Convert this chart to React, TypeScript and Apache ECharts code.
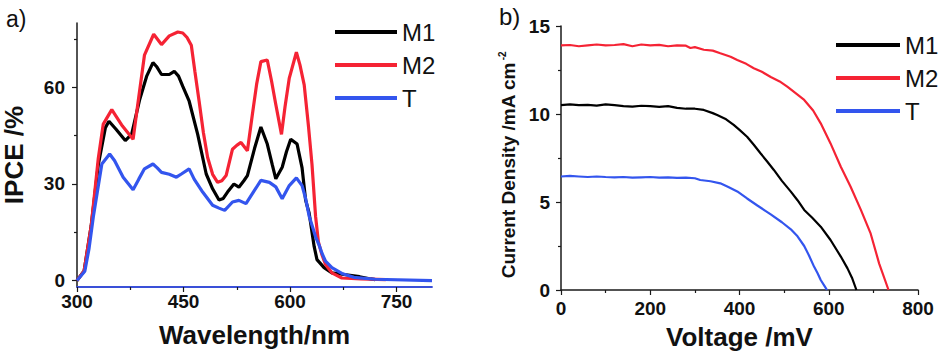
import React, { useEffect, useRef } from "react";
import * as echarts from "echarts";

// ---------- Panel a) IPCE spectra ----------
const wlM1 = [300, 310, 320, 330, 340, 345, 355, 368, 377, 388, 398, 407, 412, 419, 430, 437, 443, 449, 458, 470, 482, 491, 500, 506, 512, 521, 528, 535, 540, 550, 559, 568, 575, 580, 589, 595, 601, 610, 617, 622, 627, 634, 638, 648, 659, 679, 698, 714, 720];
const ipceM1 = [0, 3, 17, 36, 47.5, 49.5, 47, 43.5, 45.5, 56, 63.4, 67.7, 66.5, 64, 64, 65, 63.5, 60.3, 55.7, 45.4, 33.1, 28.5, 25, 25.5, 27.5, 30, 29, 31, 32.6, 41, 47.7, 42.4, 36, 31.6, 35.2, 40, 43.9, 42.4, 35, 25, 20.9, 10.6, 6.5, 4, 2.4, 1.8, 1.2, 0.5, 0.3];

const wlM2 = [300, 310, 320, 330, 337, 349, 364, 379, 387, 395, 408, 419, 430, 442, 449, 455, 461, 466, 472, 478, 484, 491, 498, 504, 510, 519, 525, 531, 540, 547, 553, 559, 568, 574, 580, 588, 593, 599, 609, 614, 620, 626, 631, 636, 640, 645, 650, 659, 673, 700, 735];
const ipceM2 = [0, 3, 17, 38, 48.6, 53.1, 48, 43.9, 57, 70, 76.5, 73.3, 76, 77.2, 76.9, 75.5, 73.1, 65, 55.7, 46, 38.2, 33, 30.5, 31, 32.6, 40.8, 42, 42.9, 40.3, 51.6, 61, 68, 68.5, 62, 54.7, 45.4, 54, 62.9, 70.9, 67, 60.8, 48, 36, 20, 12, 8, 5, 2.4, 0.8, 0.5, 0.3];

const wlT = [300, 311, 317, 323, 335, 346, 353, 365, 379, 387, 395, 407, 413, 419, 430, 440, 447, 458, 465, 477, 491, 500, 508, 519, 528, 538, 547, 559, 571, 580, 589, 599, 609, 617, 622, 627, 632, 636, 641, 645, 650, 659, 673, 690, 720, 800];
const ipceT = [0, 2.9, 10, 19.8, 36.2, 39.3, 37.2, 32.1, 28.2, 31.5, 34.7, 36.2, 35, 33.6, 33, 32.1, 33.1, 34.7, 31.5, 27.5, 23.4, 22.5, 21.8, 24.4, 24.9, 23.9, 27, 31.1, 30.5, 29.1, 25.4, 29.5, 31.9, 29.5, 25.5, 20, 16.5, 13.6, 11, 8.5, 6, 4, 2.2, 1, 0.4, 0];

const wlTicks = [300, 450, 600, 750];
const wlMinorTicks = [375, 525, 675];
const ipceTicks = [0, 30, 60];
const ipceMinorTicks = [15, 45, 75];

// ---------- Panel b) J-V curves ----------
const vM1 = [0, 20, 40, 60, 80, 100, 120, 140, 160, 180, 200, 220, 240, 260, 280, 300, 320, 340, 350, 370, 387, 400, 417, 432, 447, 462, 477, 495, 515, 530, 545, 563, 582, 604, 627, 642, 652, 662];
const jM1 = [10.5, 10.55, 10.5, 10.52, 10.48, 10.55, 10.5, 10.45, 10.42, 10.47, 10.45, 10.4, 10.45, 10.35, 10.3, 10.3, 10.23, 10.05, 9.94, 9.7, 9.38, 9.1, 8.71, 8.25, 7.77, 7.3, 6.82, 6.2, 5.59, 5.1, 4.55, 4.1, 3.6, 2.84, 1.9, 1.23, 0.7, 0];

const vM2 = [0, 20, 40, 60, 80, 100, 120, 140, 160, 180, 200, 220, 240, 260, 280, 290, 300, 320, 340, 357, 380, 395, 415, 432, 450, 470, 490, 507, 525, 545, 565, 582, 604, 627, 649, 672, 694, 713, 734];
const jM2 = [13.9, 13.92, 13.85, 13.9, 13.95, 13.9, 13.92, 13.97, 13.85, 13.95, 13.9, 13.93, 13.85, 13.9, 13.88, 13.75, 13.8, 13.65, 13.6, 13.45, 13.25, 13.07, 12.85, 12.6, 12.4, 12.1, 11.85, 11.55, 11.2, 10.8, 10.2, 9.47, 8.33, 7.0, 5.87, 4.55, 3.2, 1.5, 0];

const vT = [0, 20, 40, 60, 80, 100, 120, 140, 160, 180, 200, 220, 240, 260, 280, 300, 312, 335, 357, 375, 395, 417, 440, 458, 470, 495, 515, 530, 545, 556, 567, 575, 582, 590, 596];
const jT = [6.45, 6.48, 6.45, 6.42, 6.45, 6.42, 6.4, 6.42, 6.38, 6.4, 6.42, 6.38, 6.4, 6.37, 6.38, 6.35, 6.25, 6.18, 6.06, 5.85, 5.6, 5.2, 4.8, 4.5, 4.3, 3.85, 3.45, 3.05, 2.5, 1.95, 1.33, 0.95, 0.57, 0.25, 0];

const vTicks = [0, 200, 400, 600, 800];
const vMinorTicks = [100, 300, 500, 700];
const jTicks = [0, 5, 10, 15];
const jMinorTicks = [2.5, 7.5, 12.5];

const seriesNames = ["M1", "M2", "T"];
const colors = ["#000000", "#f52334", "#3355ee"];

const FONT = "'Liberation Sans', Arial, sans-serif";
const AXIS_COLOR = "#1a1a1a";

const zip = (xs: number[], ys: number[]) => xs.map((x, i) => [x, ys[i]]);

function majorAxis(
  gridIndex: number,
  min: number,
  max: number,
  ticks: number[],
  labelMargin: number,
  extra: any
) {
  return {
    type: "value",
    gridIndex,
    min,
    max,
    splitLine: { show: false },
    axisLine: { show: true, onZero: false, lineStyle: { color: AXIS_COLOR, width: 1.5 } },
    axisTick: { show: true, customValues: ticks, length: 5, inside: false, lineStyle: { color: AXIS_COLOR, width: 1.2 } },
    axisLabel: {
      customValues: ticks,
      fontFamily: FONT,
      fontWeight: "bold",
      fontSize: 19,
      color: "#111",
      margin: labelMargin,
    },
    ...extra,
  };
}

function minorAxis(gridIndex: number, min: number, max: number, ticks: number[], position: string) {
  return {
    type: "value",
    gridIndex,
    min,
    max,
    position,
    splitLine: { show: false },
    axisLine: { show: false, onZero: false },
    axisTick: { show: true, customValues: ticks, length: 3, lineStyle: { color: AXIS_COLOR, width: 1.2 } },
    axisLabel: { show: false },
  };
}

export default function App() {
  const ref = useRef<HTMLDivElement>(null);

  useEffect(() => {
    document.body.style.margin = "0";
    const chart = echarts.init(ref.current!, null, { renderer: "svg" });

    const leftData = [zip(wlM1, ipceM1), zip(wlM2, ipceM2), zip(wlT, ipceT)];
    const rightData = [zip(vM1, jM1), zip(vM2, jM2), zip(vT, jT)];

    const series: any[] = [];
    seriesNames.forEach((name, i) => {
      series.push({
        type: "line",
        name,
        xAxisIndex: 0,
        yAxisIndex: 0,
        data: leftData[i],
        showSymbol: false,
        symbol: "none",
        lineStyle: { color: colors[i], width: 3.2 },
        itemStyle: { color: colors[i] },
        z: 3 + (i === 2 ? 1 : 0),
      });
    });
    seriesNames.forEach((name, i) => {
      series.push({
        type: "line",
        name,
        xAxisIndex: 1,
        yAxisIndex: 1,
        data: rightData[i],
        showSymbol: false,
        symbol: "none",
        lineStyle: { color: colors[i], width: 2.2 },
        itemStyle: { color: colors[i] },
      });
    });

    const legendCommon = {
      orient: "vertical",
      icon: "rect",
      itemHeight: 4,
      itemGap: 9,
      selectedMode: false,
      textStyle: { fontFamily: FONT, fontSize: 24, color: "#111", lineHeight: 24 },
      data: seriesNames,
    };

    chart.setOption({
      animation: false,
      backgroundColor: "#ffffff",
      textStyle: { fontFamily: FONT },
      grid: [
        { left: 77, top: 23, width: 355, height: 264 },
        { left: 561, top: 26, width: 357, height: 264 },
      ],
      xAxis: [
        majorAxis(0, 300, 800, wlTicks, 5, {
          position: "bottom",
          axisLine: { show: true, onZero: false, lineStyle: { color: "#3a50d8", width: 1.8 } },
          name: "Wavelength/nm",
          nameLocation: "middle",
          nameGap: 35,
          nameTextStyle: { fontFamily: FONT, fontWeight: "bold", fontSize: 26, color: "#111" },
        }),
        majorAxis(1, 0, 800, vTicks, 9, {
          position: "bottom",
          name: "Voltage /mV",
          nameLocation: "middle",
          nameGap: 34,
          nameTextStyle: { fontFamily: FONT, fontWeight: "bold", fontSize: 26, color: "#111" },
        }),
        minorAxis(0, 300, 800, wlMinorTicks, "bottom"),
        minorAxis(1, 0, 800, vMinorTicks, "bottom"),
      ],
      yAxis: [
        majorAxis(0, -2, 80, ipceTicks, 12, {
          position: "left",
          name: "IPCE /%",
          nameLocation: "middle",
          nameGap: 50,
          nameTextStyle: { fontFamily: FONT, fontWeight: "bold", fontSize: 26, color: "#111" },
        }),
        majorAxis(1, 0, 15, jTicks, 11, {
          position: "left",
          name: "Current Density /mA cm{sup|-2}",
          nameLocation: "middle",
          nameGap: 42,
          nameTextStyle: {
            fontFamily: FONT,
            fontWeight: "bold",
            fontSize: 19,
            color: "#111",
            padding: [0, 14, 0, 0],
            rich: {
              sup: { fontFamily: FONT, fontWeight: "bold", fontSize: 10, color: "#111", padding: [0, 0, 12, 2] },
            },
          },
        }),
        minorAxis(0, -2, 80, ipceMinorTicks, "left"),
        minorAxis(1, 0, 15, jMinorTicks, "left"),
      ],
      legend: [
        { ...legendCommon, left: 330, top: 15, itemWidth: 62 },
        { ...legendCommon, left: 831, top: 28, itemWidth: 64 },
      ],
      graphic: [
        { type: "text", left: 6, top: 7, style: { text: "a)", fontFamily: FONT, fontSize: 23, fill: "#111" } },
        { type: "text", left: 499, top: 4, style: { text: "b)", fontFamily: FONT, fontSize: 24, fill: "#111" } },
      ],
      series,
    });

    return () => chart.dispose();
  }, []);

  return <div ref={ref} style={{ width: 941, height: 356 }} />;
}
